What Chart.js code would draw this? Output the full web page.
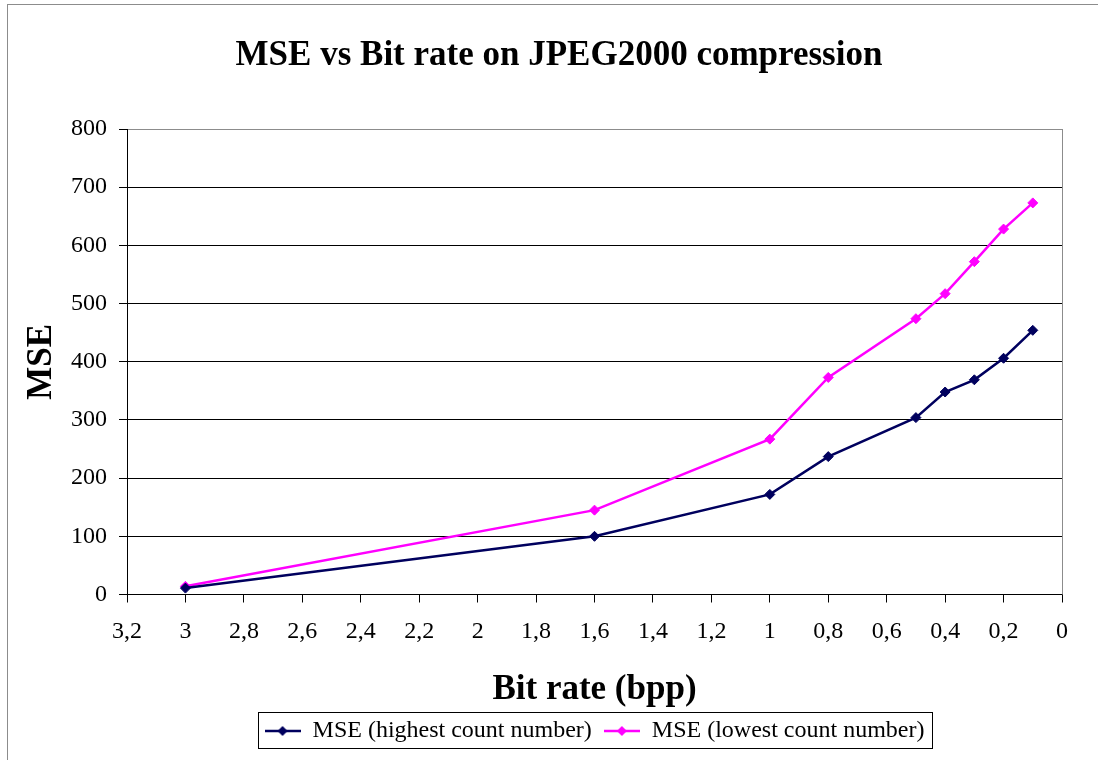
<!DOCTYPE html>
<html>
<head>
<meta charset="utf-8">
<title>MSE vs Bit rate on JPEG2000 compression</title>
<script src="https://cdn.jsdelivr.net/npm/chart.js@4/dist/chart.umd.min.js"></script>
<style>
    html, body { margin: 0; padding: 0; background: #fff; overflow: hidden; }
    #frame { position: absolute; left: 7px; top: 4px; width: 1200px; height: 900px; border: 1px solid #8c8c8c; }
    #wrap { position: absolute; left: 0; top: 0; width: 1118px; height: 760px; }
</style>
</head>
<body>
<div id="frame"></div>
<div id="wrap"><canvas id="mse-chart"></canvas></div>
<script>
/* ── data ────────────────────────────────────────────────── */
var BIT_RATES    = [3, 1.6, 1, 0.8, 0.5, 0.4, 0.3, 0.2, 0.1];
var MSE_HIGHEST  = [11, 100, 172, 237, 304, 348, 369, 406, 454];
var MSE_LOWEST   = [14, 145, 267, 373, 474, 517, 572, 628, 673];
var SERIES_NAMES = ['MSE (highest count number)', 'MSE (lowest count number)'];
var SERIES_COLORS = ['#00005e', '#ff00ff'];

var SERIF = "'Liberation Serif', 'Times New Roman', serif";

Chart.defaults.font.family = SERIF;
Chart.defaults.color = '#000';

function toPoints(values) {
    return BIT_RATES.map(function(x, i) { return { x: x, y: values[i] }; });
}

// line + diamond marker used in the legend, like Excel
function legendMarker(color) {
    var c = document.createElement('canvas');
    c.width = 36; c.height = 14;
    var g = c.getContext('2d');
    g.strokeStyle = color; g.lineWidth = 2.5;
    g.beginPath(); g.moveTo(0, 7); g.lineTo(36, 7); g.stroke();
    g.fillStyle = color;
    g.beginPath(); g.moveTo(18, 2); g.lineTo(23, 7); g.lineTo(18, 12); g.lineTo(13, 7); g.closePath(); g.fill();
    return c;
}
var LEGEND_MARKERS = SERIES_COLORS.map(legendMarker);

var plotFrame = {
    id: 'plotFrame',
    beforeDatasetsDraw: function(chart) {
        var a = chart.chartArea, ctx = chart.ctx;
        ctx.save();
        ctx.strokeStyle = '#8c8c8c'; ctx.lineWidth = 1;
        ctx.beginPath();
        ctx.moveTo(Math.round(a.right) + 0.5, a.top);
        ctx.lineTo(Math.round(a.right) + 0.5, a.bottom);
        ctx.stroke();
        ctx.restore();
    },
    afterDraw: function(chart) {
        var lg = chart.legend, ctx = chart.ctx;
        if (!lg || !lg.legendHitBoxes.length) return;
        var l = Infinity, r = -Infinity;
        lg.legendHitBoxes.forEach(function(b) { l = Math.min(l, b.left); r = Math.max(r, b.left + b.width); });
        ctx.save();
        ctx.strokeStyle = '#000'; ctx.lineWidth = 1;
        ctx.strokeRect(Math.round(l - 7) + 0.5, Math.round(lg.top + 5) + 0.5, Math.round(r - l + 14), Math.round(lg.height - 10));
        ctx.restore();
    }
};

function commaLabel(v) {
    return String(Math.round(v * 10) / 10).replace('.', ',');
}

new Chart(document.getElementById('mse-chart'), {
    type: 'line',
    data: {
        datasets: [0, 1].map(function(i) {
            return {
                label: SERIES_NAMES[i],
                data: toPoints(i === 0 ? MSE_HIGHEST : MSE_LOWEST),
                borderColor: SERIES_COLORS[i], backgroundColor: SERIES_COLORS[i],
                borderWidth: 2.5, pointStyle: 'rectRot', pointRadius: 5,
                pointBorderWidth: 1, tension: 0, fill: false
            };
        })
    },
    options: {
        responsive: true, maintainAspectRatio: false, animation: false,
        layout: { padding: { left: 0, right: 0, top: 0, bottom: 7 } },
        plugins: {
            title: {
                display: true, text: 'MSE vs Bit rate on JPEG2000 compression', color: '#000',
                font: { size: 35, weight: 'bold', family: SERIF },
                padding: { top: 35, bottom: 52 }
            },
            legend: {
                position: 'bottom', fullSize: false,
                labels: {
                    usePointStyle: true, pointStyleWidth: 36, boxHeight: 14, padding: 12,
                    color: '#000', font: { size: 24, family: SERIF },
                    generateLabels: function(chart) {
                        var items = Chart.defaults.plugins.legend.labels.generateLabels(chart);
                        items.forEach(function(it, i) { it.pointStyle = LEGEND_MARKERS[i]; });
                        return items;
                    }
                }
            },
            tooltip: { enabled: false }
        },
        scales: {
            x: {
                type: 'linear', reverse: true, min: 0, max: 3.2,
                afterFit: function(s) { s.height = 112.5; },
                border: { color: '#000', width: 1 },
                grid: { drawOnChartArea: false, drawTicks: true, tickLength: 8, tickColor: '#000' },
                ticks: { stepSize: 0.2, padding: 15, color: '#000', font: { size: 24 }, maxRotation: 0,
                         callback: function(v) { return commaLabel(v); } },
                title: { display: true, text: 'Bit rate (bpp)', color: '#000',
                         font: { size: 35, weight: 'bold', lineHeight: 1 }, padding: { top: 0, bottom: 0 } }
            },
            y: {
                min: 0, max: 800,
                afterFit: function(s) { s.width = 127; },
                border: { color: '#000', width: 1 },
                grid: {
                    color: function(c) { return c.tick && c.tick.value === 800 ? '#8c8c8c' : '#000'; },
                    tickColor: '#000', tickLength: 8
                },
                ticks: { stepSize: 100, padding: 12, color: '#000', font: { size: 24 } },
                title: { display: true, text: 'MSE', color: '#000',
                         font: { size: 35, weight: 'bold', lineHeight: 1.2 }, padding: { top: 21, bottom: 0 } }
            },
            // empty right-hand box: keeps the plot right edge where the reference has it
            spacer: {
                type: 'linear', position: 'right', display: true,
                afterFit: function(s) { s.width = 56; },
                grid: { display: false }, border: { display: false }, ticks: { display: false }
            }
        }
    },
    plugins: [plotFrame]
});
</script>
</body>
</html>
